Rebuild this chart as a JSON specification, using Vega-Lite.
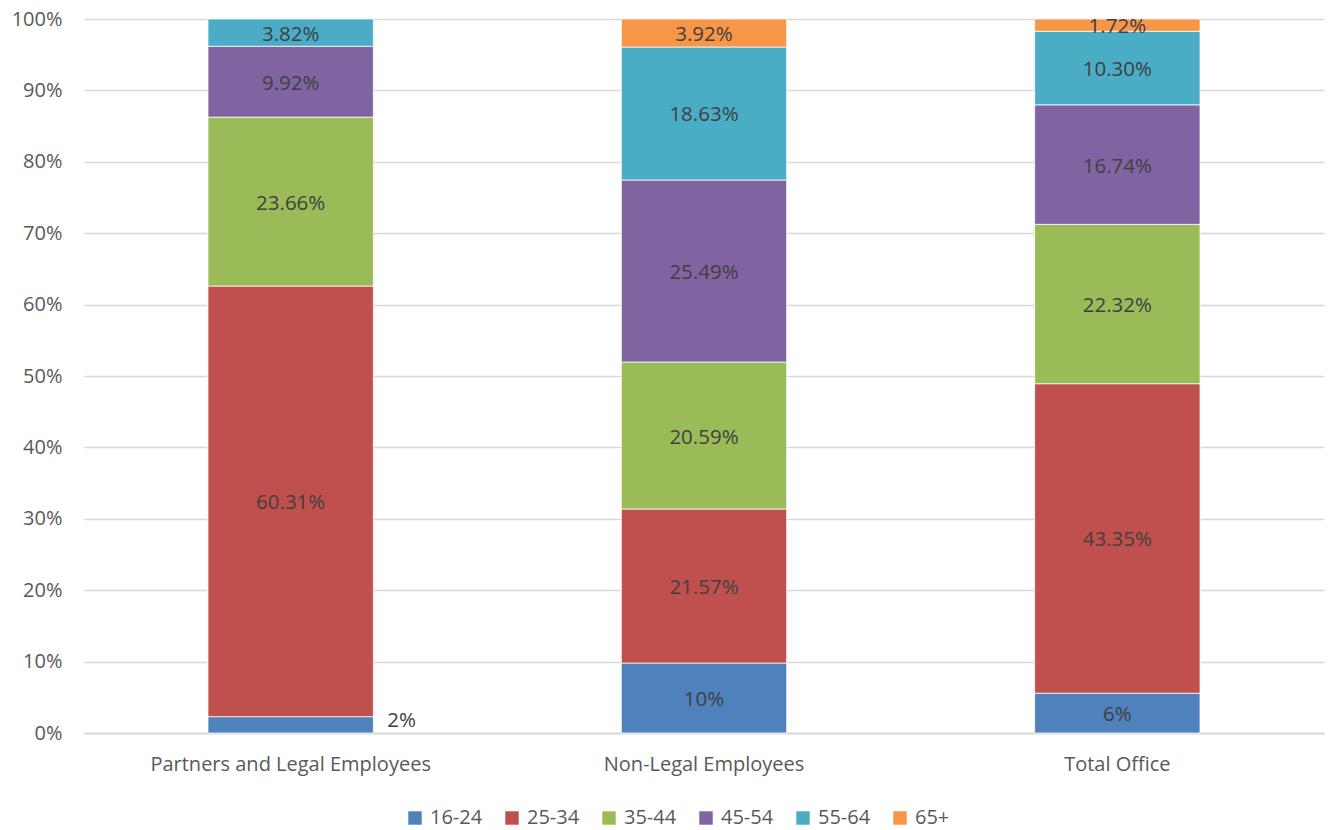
{
  "$schema": "https://vega.github.io/schema/vega-lite/v6.json",
  "width": 1240,
  "height": 714,
  "autosize": {"type": "none"},
  "padding": {"left": 84, "top": 19, "right": 4, "bottom": 97},
  "background": "white",
  "config": {
    "font": "Open Sans",
    "view": {"stroke": null},
    "axis": {"labelFont": "Open Sans", "labelColor": "#595959", "labelFontSize": 20, "labelLimit": 0},
    "axisY": {
      "title": null,
      "format": ".0%",
      "tickCount": 10,
      "labelOverlap": false,
      "domain": false,
      "ticks": false,
      "gridColor": "#D9D9D9",
      "gridWidth": 1.5,
      "labelPadding": 22
    }
  },
  "data": {
    "values": [
      {"category": "Partners and Legal Employees", "age": "16-24", "value": 2.29, "label": "2%"},
      {"category": "Partners and Legal Employees", "age": "25-34", "value": 60.31, "label": "60.31%"},
      {"category": "Partners and Legal Employees", "age": "35-44", "value": 23.66, "label": "23.66%"},
      {"category": "Partners and Legal Employees", "age": "45-54", "value": 9.92, "label": "9.92%"},
      {"category": "Partners and Legal Employees", "age": "55-64", "value": 3.82, "label": "3.82%"},
      {"category": "Non-Legal Employees", "age": "16-24", "value": 9.80, "label": "10%"},
      {"category": "Non-Legal Employees", "age": "25-34", "value": 21.57, "label": "21.57%"},
      {"category": "Non-Legal Employees", "age": "35-44", "value": 20.59, "label": "20.59%"},
      {"category": "Non-Legal Employees", "age": "45-54", "value": 25.49, "label": "25.49%"},
      {"category": "Non-Legal Employees", "age": "55-64", "value": 18.63, "label": "18.63%"},
      {"category": "Non-Legal Employees", "age": "65+", "value": 3.92, "label": "3.92%"},
      {"category": "Total Office", "age": "16-24", "value": 5.57, "label": "6%"},
      {"category": "Total Office", "age": "25-34", "value": 43.35, "label": "43.35%"},
      {"category": "Total Office", "age": "35-44", "value": 22.32, "label": "22.32%"},
      {"category": "Total Office", "age": "45-54", "value": 16.74, "label": "16.74%"},
      {"category": "Total Office", "age": "55-64", "value": 10.30, "label": "10.30%"},
      {"category": "Total Office", "age": "65+", "value": 1.72, "label": "1.72%"}
    ]
  },
  "encoding": {
    "x": {
      "field": "category",
      "type": "nominal",
      "sort": ["Partners and Legal Employees", "Non-Legal Employees", "Total Office"],
      "scale": {"paddingInner": 0.6, "paddingOuter": 0.3},
      "axis": {
        "title": null,
        "labelAngle": 0,
        "ticks": false,
        "domainColor": "#D9D9D9",
        "domainWidth": 2,
        "labelPadding": 21
      }
    }
  },
  "layer": [
    {
      "mark": {"type": "bar", "stroke": "white", "strokeWidth": 0.75},
      "encoding": {
        "y": {
          "field": "value",
          "type": "quantitative",
          "stack": "normalize",
          "scale": {"domain": [0, 1]},
          "title": null
        },
        "color": {
          "field": "age",
          "type": "nominal",
          "scale": {
            "domain": ["16-24", "25-34", "35-44", "45-54", "55-64", "65+"],
            "range": ["#4F81BD", "#C0504D", "#9BBB59", "#8064A2", "#4BACC6", "#F79646"]
          },
          "legend": {
            "title": null,
            "orient": "none",
            "direction": "horizontal",
            "legendX": 321,
            "legendY": 789,
            "symbolType": "square",
            "symbolSize": 180,
            "symbolStrokeWidth": 0,
            "symbolOpacity": 1,
            "labelFont": "Open Sans",
            "labelFontSize": 20,
            "labelColor": "#595959",
            "labelOffset": 5,
            "columnPadding": 19
          }
        },
        "order": {"field": "age", "sort": "ascending"}
      }
    },
    {
      "mark": {"type": "text", "fontSize": 20.5, "color": "#404040", "font": "Open Sans", "baseline": "middle", "dy": 2},
      "encoding": {
        "y": {"field": "value", "type": "quantitative", "stack": "normalize", "bandPosition": 0.5, "title": null},
        "detail": {"field": "age"},
        "order": {"field": "age", "sort": "ascending"},
        "text": {
          "condition": {"test": "datum.category == 'Partners and Legal Employees' && datum.age == '16-24'", "value": ""},
          "field": "label"
        }
      }
    },
    {
      "mark": {"type": "text", "fontSize": 20.5, "color": "#404040", "font": "Open Sans", "baseline": "middle", "align": "left", "dx": 14, "dy": -4},
      "encoding": {
        "x": {"field": "category", "type": "nominal", "sort": ["Partners and Legal Employees", "Non-Legal Employees", "Total Office"], "bandPosition": 1},
        "y": {"field": "value", "type": "quantitative", "stack": "normalize", "bandPosition": 0.5, "title": null},
        "detail": {"field": "age"},
        "order": {"field": "age", "sort": "ascending"},
        "text": {
          "condition": {"test": "datum.category == 'Partners and Legal Employees' && datum.age == '16-24'", "field": "label"},
          "value": ""
        }
      }
    }
  ]
}
